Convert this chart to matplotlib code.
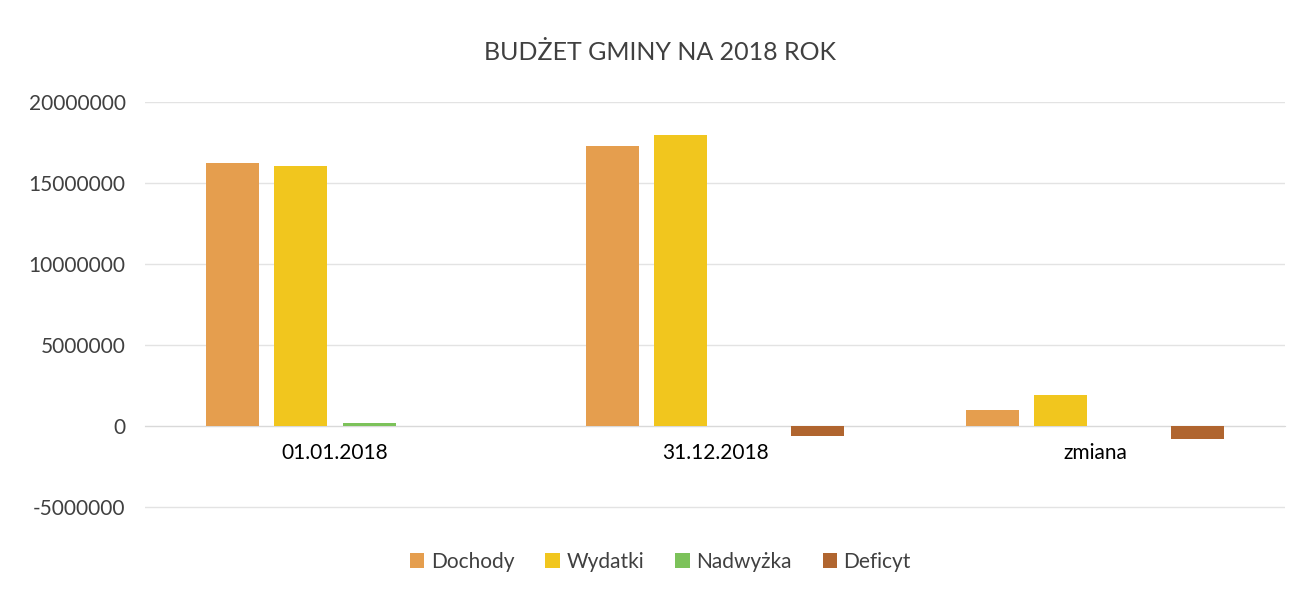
import matplotlib.pyplot as plt
import numpy as np
from matplotlib import rcParams

rcParams['font.family'] = ['Lato', 'DejaVu Sans']
rcParams['font.size'] = 15

categories = ['01.01.2018', '31.12.2018', 'zmiana']
series = ['Dochody', 'Wydatki', 'Nadwyżka', 'Deficyt']
dochody = [16250000, 17270000, 1020000]
wydatki = [16060000, 17960000, 1890000]
nadwyzka = [190000, 0, 0]
deficyt = [0, -620000, -780000]
colors = ['#E59E4E', '#F1C61E', '#7CC25A', '#B0652F']

values = [dochody, wydatki, nadwyzka, deficyt]

fig = plt.figure(figsize=(13, 5.91), dpi=100)
ax = fig.add_axes([145 / 1300, 1 - 509 / 591, 1140 / 1300, 407 / 591])

x = np.arange(len(categories))
width = 0.14
step = 0.18
for i, (name, vals) in enumerate(zip(series, values)):
    ax.bar(x + (i - 1.5) * step, vals, width, color=colors[i], label=name, zorder=3)

ax.set_xlim(-0.5, 2.5)
ax.set_ylim(-5120000, 20000000)
ticks = list(range(-5000000, 20000001, 5000000))
ax.set_yticks(ticks)
ax.set_yticklabels([str(v) for v in ticks], color='#404040')
ax.yaxis.grid(True, color='#E3E3E3', lw=1)
ax.set_axisbelow(True)
ax.tick_params(axis='y', length=0, pad=14)

ax.set_xticks(x)
ax.set_xticklabels(categories, color='#404040')
ax.tick_params(axis='x', length=0, pad=12)
ax.spines['bottom'].set_position(('data', 0))
ax.spines['bottom'].set_color('#D9D9D9')
for s in ['top', 'right', 'left']:
    ax.spines[s].set_visible(False)

fig.text(0.5075, 1 - 52 / 591, 'BUDŻET GMINY NA 2018 ROK', ha='center', va='center',
         fontsize=18, color='#404040')

fig.legend(loc='center', bbox_to_anchor=(0.508, 1 - 562 / 591), ncol=4, frameon=False,
           handlelength=0.7, handleheight=0.7, handletextpad=0.3, columnspacing=1.5,
           fontsize=15, labelcolor='#404040')

fig.savefig('out.png')
